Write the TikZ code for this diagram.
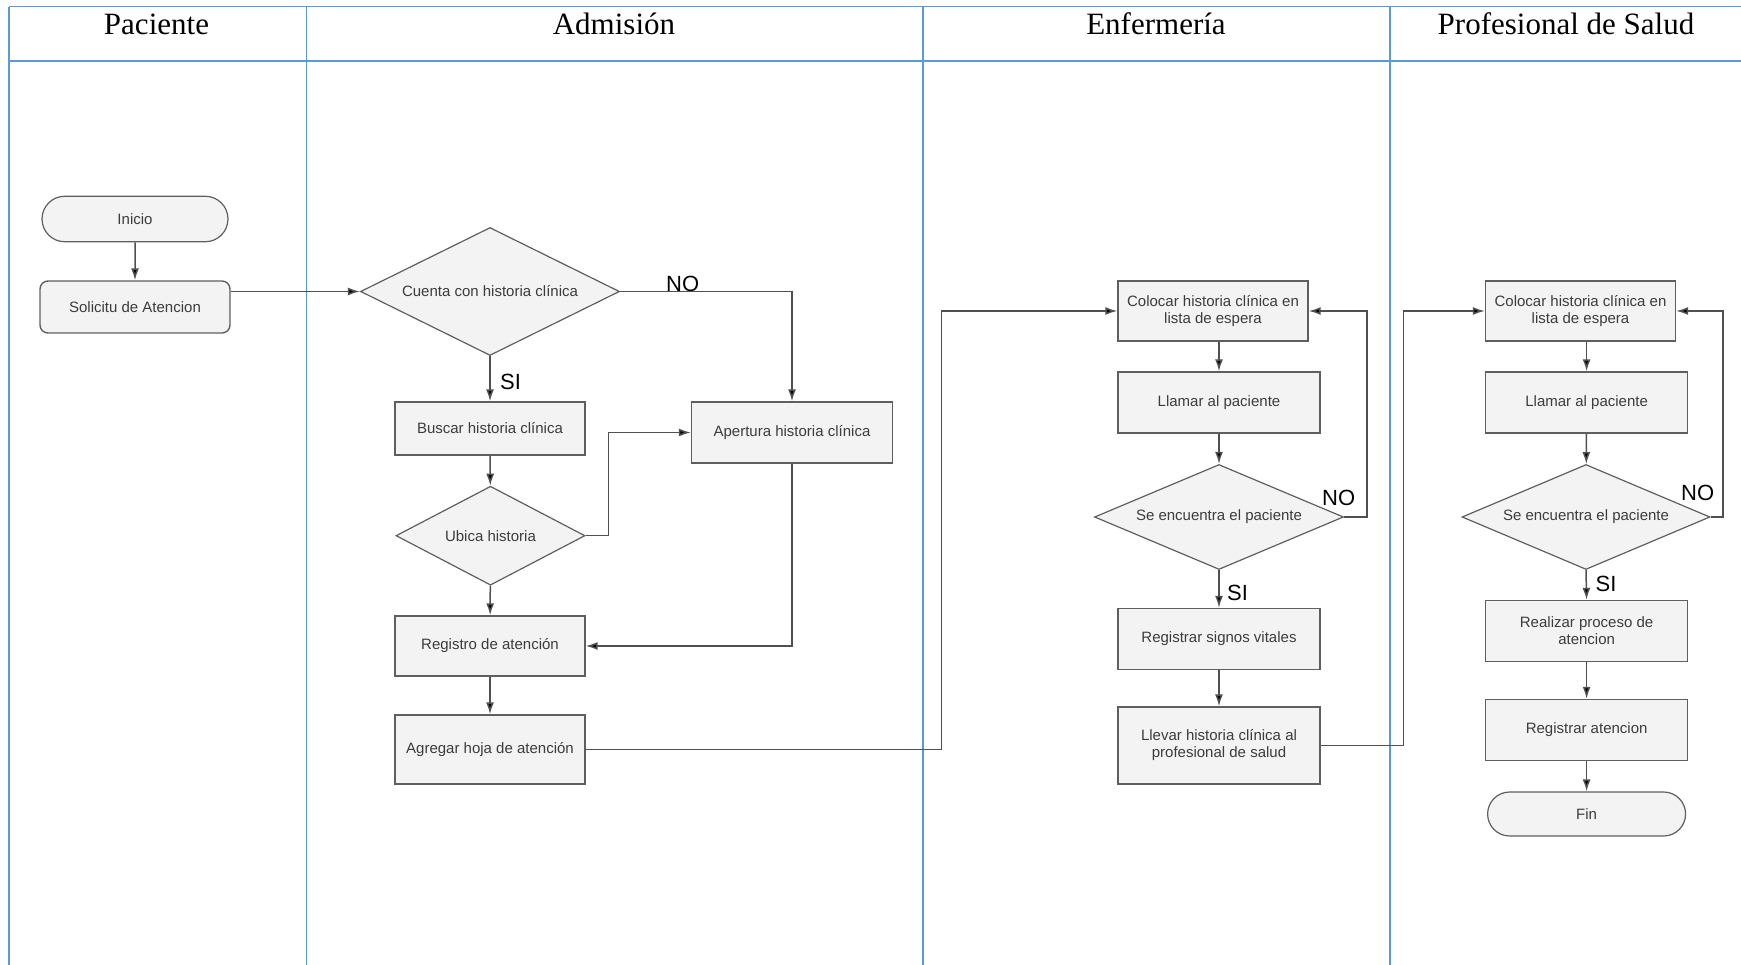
\documentclass[tikz,border=0pt]{standalone}
\usepackage{fontspec}
\setmainfont{Liberation Serif}
\newfontfamily\diagfont{Liberation Sans}
\usepackage{tikz}
\usetikzlibrary{shapes,arrows.meta}
\definecolor{azulcarril}{HTML}{5B9BD5}
\definecolor{borde}{HTML}{5F5F5F}
\definecolor{relleno}{HTML}{F3F3F3}
\definecolor{texto}{HTML}{3C3C3C}
\definecolor{linea}{HTML}{505050}
\tikzstyle{proceso}=[rectangle, draw=borde, fill=relleno, line width=1.4pt, text=texto,
        align=center, inner sep=2pt, font=\diagfont\fontsize{15}{17}\selectfont]
\tikzstyle{decision}=[diamond, aspect=2, draw=borde, fill=relleno, line width=1.2pt, text=texto,
        inner sep=0pt, font=\diagfont\fontsize{15}{17}\selectfont]
\tikzstyle{terminal}=[rounded rectangle, draw=borde, fill=relleno, line width=1.2pt, text=texto,
        inner sep=2pt, font=\diagfont\fontsize{15}{17}\selectfont]
\tikzstyle{flecha}=[-{Latex[length=12pt,width=8pt,fill=black]}, draw=linea, line width=1.5pt]
\tikzstyle{etiqueta}=[anchor=north west, inner sep=0pt, font=\diagfont\fontsize{22}{22}\selectfont]
\tikzstyle{titulo}=[anchor=base, inner sep=0pt, font=\fontsize{31}{31}\selectfont]
\tikzstyle{lineacarril}=[draw=azulcarril, line width=1.6pt]

\begin{document}
\begin{tikzpicture}[x=1pt, y=-1pt]
	\useasboundingbox (0,0) rectangle (1741,965);

	% carriles
	\draw[lineacarril] (9,6.7) -- (1741,6.7);
	\draw[lineacarril] (9,61) -- (1741,61);
	\foreach \x in {9,306.5,922.7,1390}
		\draw[lineacarril] (\x,6.7) -- (\x,965);

	\node (tPaciente) [titulo] at (156.5,34.5) {Paciente};
	\node (tAdmision) [titulo] at (614,34.5) {Admisión};
	\node (tEnfermeria) [titulo] at (1156,34.5) {Enfermería};
	\node (tProfesional) [titulo] at (1566,34.5) {Profesional de Salud};

	% Paciente
	\node (Inicio) [terminal, minimum width=190pt, minimum height=45.5pt] at (135,219) {Inicio};
	\node (Solicitud) [proceso, rounded corners=8pt, minimum width=190pt, minimum height=52pt]
		at (135,307) {Solicitu de Atencion};

	% Admision
	\node (Cuenta) [decision, minimum width=259pt, minimum height=128pt] at (490,291.5)
		{Cuenta con historia clínica};
	\node (Buscar) [proceso, minimum width=190pt, minimum height=53pt] at (490,428.5)
		{Buscar historia clínica};
	\node (Apertura) [proceso, minimum width=201pt, minimum height=61pt] at (792,432.5)
		{Apertura historia clínica};
	\node (Ubica) [decision, minimum width=189pt, minimum height=99pt] at (490.5,535.7)
		{Ubica historia};
	\node (Registro) [proceso, minimum width=190pt, minimum height=60pt] at (490,646)
		{Registro de atención};
	\node (Agregar) [proceso, minimum width=190pt, minimum height=69pt] at (490,749.5)
		{Agregar hoja de atención};

	% Enfermeria
	\node (Colocar1) [proceso, minimum width=190pt, minimum height=60pt] at (1213,311)
		{Colocar historia clínica en\\lista de espera};
	\node (Llamar1) [proceso, minimum width=202pt, minimum height=61pt] at (1219,402.5)
		{Llamar al paciente};
	\node (Encuentra1) [decision, minimum width=249pt, minimum height=105pt] at (1219,517)
		{Se encuentra el paciente};
	\node (Signos) [proceso, minimum width=202pt, minimum height=61pt] at (1219,639)
		{Registrar signos vitales};
	\node (Llevar) [proceso, minimum width=202pt, minimum height=77pt] at (1219,745.5)
		{Llevar historia clínica al\\profesional de salud};

	% Profesional de Salud
	\node (Colocar2) [proceso, minimum width=190pt, minimum height=60pt] at (1580.5,311)
		{Colocar historia clínica en\\lista de espera};
	\node (Llamar2) [proceso, minimum width=202pt, minimum height=61pt] at (1586.6,402.5)
		{Llamar al paciente};
	\node (Encuentra2) [decision, minimum width=248pt, minimum height=105pt] at (1586,517)
		{Se encuentra el paciente};
	\node (Realizar) [proceso, minimum width=202pt, minimum height=61pt] at (1586.6,631)
		{Realizar proceso de\\atencion};
	\node (RegAtencion) [proceso, minimum width=202pt, minimum height=61pt] at (1586.6,730)
		{Registrar atencion};
	\node (Fin) [terminal, minimum width=202pt, minimum height=44pt] at (1586.6,814) {Fin};

	% etiquetas
	\node (noCuenta) [etiqueta] at (666,276) {NO};
	\node (siCuenta) [etiqueta] at (500,374) {SI};
	\node (noEnf) [etiqueta] at (1322,490) {NO};
	\node (siEnf) [etiqueta] at (1227,585) {SI};
	\node (noProf) [etiqueta] at (1681,485) {NO};
	\node (siProf) [etiqueta] at (1595.5,576) {SI};

	\coordinate (codoUbica) at (608.5,0);
	\coordinate (codoAgregar) at (941.5,0);
	\coordinate (codoEnf) at (1366.8,0);
	\coordinate (codoLlevar) at (1403.4,0);
	\coordinate (codoProf) at (1723,0);

	\draw[flecha] (Inicio) -- (Solicitud);
	\draw[flecha] (Solicitud.east |- Cuenta.west) -- (Cuenta.west);
	\draw[flecha] (Cuenta.east) -| (Apertura.north);
	\draw[flecha] (Cuenta.south) -- (Buscar.north);
	\draw[flecha] (Buscar) -- (Ubica);
	\draw[flecha] (Ubica.east) -- (Ubica.east -| codoUbica) |- (Apertura.west);
	\draw[flecha] (Ubica) -- (Registro);
	\draw[flecha] (Apertura.south) |- (Registro.east);
	\draw[flecha] (Registro) -- (Agregar);
	\draw[flecha] (Agregar.east) -- (Agregar.east -| codoAgregar) |- (Colocar1.west);

	\draw[flecha] (Colocar1.south -| Llamar1.north) -- (Llamar1.north);
	\draw[flecha] (Llamar1) -- (Encuentra1);
	\draw[flecha] (Encuentra1.east) -- (Encuentra1.east -| codoEnf) |- (Colocar1.east);
	\draw[flecha] (Encuentra1.south) -- (Signos.north);
	\draw[flecha] (Signos) -- (Llevar);
	\draw[flecha] (Llevar.east) -- (Llevar.east -| codoLlevar) |- (Colocar2.west);

	\draw[flecha] (Colocar2.south -| Llamar2.north) -- (Llamar2.north);
	\draw[flecha] (Llamar2) -- (Encuentra2);
	\draw[flecha] (Encuentra2.east) -- (Encuentra2.east -| codoProf) |- (Colocar2.east);
	\draw[flecha] (Encuentra2.south) -- (Realizar.north);
	\draw[flecha] (Realizar) -- (RegAtencion);
	\draw[flecha] (RegAtencion) -- (Fin);

\end{tikzpicture}
\end{document}
